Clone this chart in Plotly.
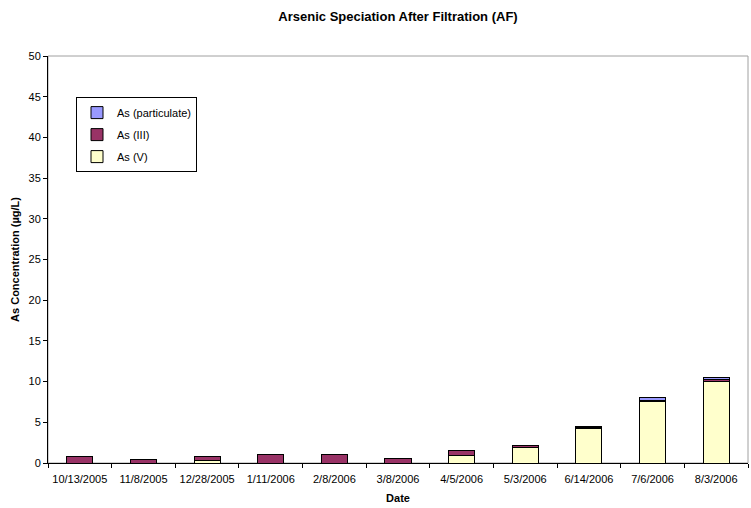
import plotly.graph_objects as go

# Sampling dates (category axis)
dates = ["10/13/2005", "11/8/2005", "12/28/2005", "1/11/2006", "2/8/2006",
         "3/8/2006", "4/5/2006", "5/3/2006", "6/14/2006", "7/6/2006", "8/3/2006"]

# Arsenic species concentrations (µg/L)
as_v = [0.0, 0.0, 0.3, 0.0, 0.0, 0.0, 0.9, 1.9, 4.2, 7.6, 10.0]
as_iii = [0.8, 0.4, 0.5, 1.0, 1.1, 0.6, 0.6, 0.2, 0.2, 0.1, 0.25]
as_part = [0.0, 0.0, 0.0, 0.0, 0.0, 0.0, 0.0, 0.0, 0.05, 0.3, 0.2]

y_ticks = list(range(0, 51, 5))

FONT = "Liberation Sans, Arial, sans-serif"

fig = go.Figure()
# stacked bottom-to-top; legend lists them top-to-bottom
series = [
    ("As (V)", as_v, "#FFFFCC", 3),
    ("As (III)", as_iii, "#993366", 2),
    ("As (particulate)", as_part, "#9999FF", 1),
]
for name, vals, color, rank in series:
    fig.add_trace(go.Bar(
        x=dates, y=vals, name=name, legendgroup=name, legendrank=rank,
        marker=dict(color=color, line=dict(color="#000000", width=1)),
    ))

fig.update_layout(
    width=751, height=508,
    margin=dict(l=48, r=3, t=56, b=45),
    paper_bgcolor="white", plot_bgcolor="white",
    barmode="stack", bargap=0.59,
    font=dict(family=FONT, size=11, color="#000000"),
    title=dict(text="<b>Arsenic Speciation After Filtration (AF)</b>",
               x=0.5, xanchor="center", xref="paper", y=1 - 16 / 508, yanchor="middle",
               font=dict(family=FONT, size=13, color="#000000")),
    legend=dict(x=0.04, y=0.899, xanchor="left", yanchor="top",
                bgcolor="white", bordercolor="#000000", borderwidth=1,
                traceorder="grouped", tracegroupgap=3,
                entrywidth=115, entrywidthmode="pixels",
                font=dict(family=FONT, size=11, color="#000000")),
    shapes=[dict(type="rect", xref="paper", yref="paper", x0=0, x1=1, y0=0, y1=1,
                 line=dict(color="#A0A0A0", width=1), layer="below")],
)

fig.update_xaxes(
    type="category", showgrid=False, showline=True, linecolor="#000000", linewidth=1,
    ticks="outside", ticklen=4, tickcolor="#000000", tickson="boundaries", tickangle=0,
    ticklabelstandoff=6,
    tickfont=dict(family=FONT, size=11, color="#000000"),
    title=dict(text="<b>Date</b>", font=dict(family=FONT, size=11, color="#000000"), standoff=10),
)
fig.update_yaxes(
    range=[0, 50], tickvals=y_ticks, showgrid=False, zeroline=False,
    showline=True, linecolor="#000000", linewidth=1,
    ticks="outside", ticklen=4, tickcolor="#000000",
    tickfont=dict(family=FONT, size=11, color="#000000"),
    title=dict(text="<b>As Concentration (µg/L)</b>",
               font=dict(family=FONT, size=11, color="#000000"), standoff=6),
)

fig.write_html("out.html")
